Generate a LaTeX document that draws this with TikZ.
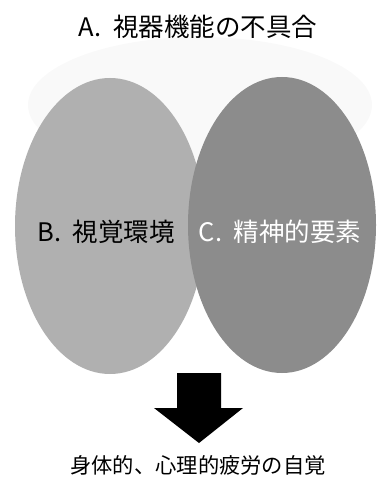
\documentclass[tikz,border=0pt]{standalone}
\usepackage{fontspec}
\setmainfont{Noto Sans CJK JP}
\usepackage{xcolor}

\definecolor{faintgray}{gray}{0.975}
\definecolor{envgray}{gray}{0.69}
\definecolor{mindgray}{gray}{0.55}

\begin{document}
\begin{tikzpicture}[x=1pt,y=-1pt,
    label/.style={inner sep=0pt, font=\fontsize{25.5}{30}\selectfont},
    result/.style={inner sep=0pt, font=\fontsize{21.3}{25}\selectfont}]
            \useasboundingbox (0,0) rectangle (376,486);
            \fill[faintgray] (200,105) ellipse (172pt and 68pt);
            \fill[envgray] (110,226) ellipse (95pt and 148pt);
            \fill[mindgray] (282,225) ellipse (94pt and 148pt);
            \fill[black] (177,373) -- (221,373) -- (221,408) -- (243,408)
                -- (199,443) -- (154,408) -- (177,408) -- cycle;
            \node[label] (visfunc) at (198,27) {A.\hspace{0.45em}視器機能の不具合};
            \node[label] (visenv) at (106,232) {B.\hspace{0.45em}視覚環境};
            \node[label, text=white] (mental) at (280,232) {C.\hspace{0.45em}精神的要素};
            \node[result] (fatigue) at (198,465) {身体的、心理的疲労の自覚};
        \end{tikzpicture}
\end{document}
